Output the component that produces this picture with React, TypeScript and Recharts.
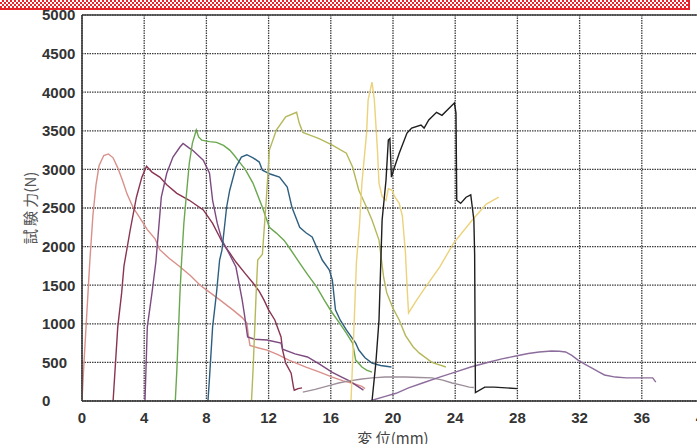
import React from 'react';
import { LineChart, Line, XAxis, YAxis, CartesianGrid, ReferenceLine } from 'recharts';

// displacement (mm), test force (N) pairs
const curvePink: [number, number][] = [
  [0, 0], [0.1, 400], [0.3, 1100], [0.5, 1800], [0.7, 2400], [0.9, 2800], [1.1, 3050], [1.4, 3180], [1.7, 3200],
  [2.0, 3150], [2.3, 3020], [2.6, 2860], [2.9, 2680], [3.3, 2500], [3.7, 2380], [4.2, 2220], [4.7, 2100], [5.0, 1960],
  [5.6, 1850], [6.3, 1740], [7.0, 1620], [7.6, 1500], [8.0, 1440], [8.8, 1320], [9.7, 1180], [10.3, 1080], [10.6, 1010],
  [10.7, 850], [10.8, 720], [11.3, 690], [11.9, 660], [12.6, 600], [13.3, 530], [14.4, 440], [15.2, 380], [16.1, 310],
  [16.8, 260], [17.4, 230], [18.0, 190], [18.2, 160],
];
const curveMaroon: [number, number][] = [
  [2.0, 0], [2.3, 960], [2.55, 1400], [2.7, 1750], [3.1, 2215], [3.5, 2640], [3.85, 2900], [4.15, 3040], [4.5, 2965],
  [5.0, 2900], [5.45, 2800], [6.1, 2690], [6.9, 2600], [7.8, 2475], [8.4, 2300], [8.85, 2125], [9.05, 2045], [9.5, 1917],
  [9.9, 1800], [10.5, 1650], [11.0, 1528], [11.4, 1420], [11.7, 1310], [12.0, 1180], [12.4, 1050], [12.8, 830],
  [12.9, 660], [13.1, 490], [13.45, 360], [13.6, 180], [13.65, 140], [13.9, 160], [14.15, 170],
];
const curvePurple: [number, number][] = [
  [4.05, 0], [4.2, 960], [4.5, 1400], [4.75, 1800], [5.1, 2640], [5.45, 2950], [5.85, 3160], [6.3, 3290], [6.5, 3335],
  [6.9, 3275], [7.1, 3250], [7.8, 3120], [8.2, 2950], [8.4, 2600], [8.7, 2300], [9.0, 2085], [9.35, 1955], [9.9, 1735],
  [10.3, 1310], [10.45, 1115], [10.65, 830], [11.1, 800], [11.9, 790], [12.8, 750], [12.9, 670], [13.7, 610],
  [14.5, 570], [15.25, 480], [16.1, 370], [16.7, 310], [17.2, 260], [18.1, 140],
];
const curveGreen: [number, number][] = [
  [6.0, 0], [6.1, 400], [6.3, 1400], [6.4, 1800], [6.55, 2300], [6.7, 2640], [6.9, 3080], [7.1, 3340], [7.35, 3510],
  [7.5, 3420], [7.7, 3380], [8.2, 3360], [8.65, 3350], [9.1, 3310], [9.5, 3250], [9.8, 3180], [10.1, 3100], [10.5, 3000],
  [11.0, 2820], [11.6, 2510], [12.05, 2250], [12.5, 2175], [13.0, 2080], [13.3, 1995], [14.0, 1787], [14.5, 1640],
  [15.1, 1476], [15.6, 1300], [16.1, 1140], [16.6, 1000], [17.0, 880], [17.4, 750], [17.6, 530], [18.0, 440],
  [18.3, 400], [18.65, 375],
];
const curveBlue: [number, number][] = [
  [8.1, 0], [8.2, 300], [8.4, 960], [8.65, 1400], [8.85, 1826], [9.0, 1955], [9.3, 2510], [9.5, 2730], [9.9, 3030],
  [10.25, 3160], [10.6, 3190], [11.0, 3150], [11.4, 3095], [11.6, 2990], [12.1, 2940], [12.7, 2900], [13.2, 2770],
  [13.5, 2510], [14.0, 2250], [14.4, 2180], [14.8, 2125], [15.25, 1917], [15.45, 1826], [15.9, 1700], [16.1, 1567],
  [16.3, 1180], [16.6, 1050], [17.0, 920], [17.6, 750], [17.8, 660], [18.2, 560], [18.65, 490], [19.2, 460],
  [19.9, 440],
];
const curveOlive: [number, number][] = [
  [10.9, 0], [11.0, 400], [11.2, 1400], [11.3, 1826], [11.6, 1900], [11.85, 2600], [12.05, 3250], [12.5, 3510],
  [13.1, 3680], [13.8, 3740], [13.97, 3600], [14.2, 3480], [14.7, 3440], [15.25, 3400], [16.1, 3315], [17.0, 3210],
  [17.4, 3030], [17.8, 2730], [18.3, 2510], [18.65, 2345], [19.1, 2085], [19.4, 1600], [19.6, 1400], [20.0, 1200],
  [20.4, 1050], [20.8, 850], [21.3, 700], [21.7, 620], [22.5, 500], [23.4, 440],
];
const curveYellow: [number, number][] = [
  [17.3, 0], [17.5, 1000], [17.65, 1800], [17.85, 2300], [18.0, 2820], [18.3, 3470], [18.4, 3900], [18.65, 4130],
  [18.8, 3900], [19.0, 3250], [19.1, 2820], [19.3, 2650], [19.55, 2600], [19.7, 2750], [19.95, 2730], [20.1, 2650],
  [20.4, 2560], [20.6, 2400], [20.8, 1917], [20.9, 1500], [21.0, 1140], [21.5, 1300], [22.0, 1450], [23.0, 1735],
  [23.9, 2046], [25.1, 2345], [26.0, 2550], [26.8, 2640],
];
const curveBlack: [number, number][] = [
  [18.65, 0], [18.9, 500], [19.1, 1050], [19.3, 2345], [19.55, 2860], [19.7, 3380], [19.8, 3400], [19.9, 2900],
  [20.1, 3030], [20.4, 3210], [20.9, 3470], [21.2, 3535], [21.8, 3575], [22.0, 3535], [22.3, 3640], [22.8, 3740],
  [23.15, 3700], [23.8, 3830], [23.95, 3860], [24.05, 3730], [24.1, 2600], [24.35, 2560], [24.7, 2640], [25.0, 2670],
  [25.1, 2510], [25.2, 2345], [25.25, 1900], [25.3, 110], [25.9, 180], [26.5, 180], [28.0, 160],
];
const curveLong: [number, number][] = [
  [18.5, 0], [19.5, 60], [20.2, 100], [21.0, 170], [21.9, 233], [23.0, 310], [24.0, 375], [25.0, 440], [26.2, 505],
  [27.0, 545], [27.9, 583], [28.7, 615], [29.4, 635], [30.2, 648], [30.7, 645], [31.1, 635], [31.5, 590], [31.9, 530],
  [32.3, 480], [32.8, 427], [33.2, 380], [33.6, 337], [34.3, 310], [35.0, 300], [35.8, 300], [36.7, 300], [36.9, 245],
];
const curveGray: [number, number][] = [
  [14.2, 115], [15.0, 150], [16.0, 205], [16.5, 233], [17.2, 260], [18.0, 285], [18.65, 300], [19.5, 310], [20.8, 310],
  [21.7, 305], [22.5, 300], [23.2, 270], [23.8, 233], [24.4, 205], [24.9, 180], [25.2, 175],
];

const xTicks = [0, 4, 8, 12, 16, 20, 24, 28, 32, 36, 40];
const yTicks = [0, 500, 1000, 1500, 2000, 2500, 3000, 3500, 4000, 4500, 5000];

const series = [
  { name: 'pink', pts: curvePink, color: '#d9908a' },
  { name: 'maroon', pts: curveMaroon, color: '#8a3450' },
  { name: 'purple', pts: curvePurple, color: '#7d4a80' },
  { name: 'green', pts: curveGreen, color: '#6aa84f' },
  { name: 'blue', pts: curveBlue, color: '#2f5f80' },
  { name: 'olive', pts: curveOlive, color: '#b5b85a' },
  { name: 'gray', pts: curveGray, color: '#9d8f99' },
  { name: 'long', pts: curveLong, color: '#8c6d9c' },
  { name: 'yellow', pts: curveYellow, color: '#ecd27a' },
  { name: 'black', pts: curveBlack, color: '#1e1e1e' },
];

const tickFont = { fontFamily: '"Liberation Sans", Arial, sans-serif', fontSize: 15, fontWeight: 700, fill: '#333' };

const YTick = (props: any) => (
  <text x={42} y={props.y} dy="0.36em" textAnchor="start" {...tickFont}>{props.payload.value}</text>
);
const XTick = (props: any) => (
  <text x={props.x} y={418} dy="0.36em" textAnchor="middle" {...tickFont}>{props.payload.value}</text>
);

export default function App() {
  return (
    <div style={{ position: 'absolute', left: 0, top: 0, width: 697, height: 444, overflow: 'hidden', background: '#fff' }}>
      <LineChart width={720} height={444} margin={{ top: 15, right: 16, bottom: 13, left: 0 }}>
        <CartesianGrid stroke="#3c3c3c" strokeDasharray="1.5 1" strokeWidth={1.3} />
        <XAxis
          type="number"
          dataKey="x"
          domain={[0, 40]}
          ticks={xTicks}
          allowDataOverflow
          height={30}
          tickLine={false}
          axisLine={{ stroke: '#333', strokeWidth: 1.5 }}
          tick={<XTick />}
          label={{ value: '変 位(mm)', position: 'bottom', offset: 2, fill: '#444', fontSize: 15, fontFamily: '"Noto Sans CJK JP", sans-serif' }}
        />
        <YAxis
          type="number"
          dataKey="y"
          domain={[0, 5000]}
          ticks={yTicks}
          allowDataOverflow
          width={82}
          tickLine={false}
          axisLine={{ stroke: '#333', strokeWidth: 1.5 }}
          tick={<YTick />}
          label={{ value: '試 験 力(N)', angle: -90, position: 'insideLeft', offset: 31, fill: '#555', fontSize: 15, fontFamily: '"Noto Sans CJK JP", sans-serif', style: { textAnchor: 'middle' } }}
        />
        <ReferenceLine y={5000} stroke="#444" strokeWidth={1.5} />
        {series.map((s) => (
          <Line
            key={s.name}
            data={s.pts.map(([x, y]) => ({ x, y }))}
            dataKey="y"
            type="linear"
            stroke={s.color}
            strokeWidth={1.4}
            dot={false}
            isAnimationActive={false}
          />
        ))}
      </LineChart>
      <div
        style={{
          position: 'absolute', left: 0, top: 0, width: 688, height: 8,
          background: 'repeating-conic-gradient(#e8232a 0% 25%, #ffffff 0% 50%) 0 0 / 4px 4px',
          borderBottom: '2px solid #e8232a', borderRight: '2px solid #e8232a',
        }}
      />
    </div>
  );
}
